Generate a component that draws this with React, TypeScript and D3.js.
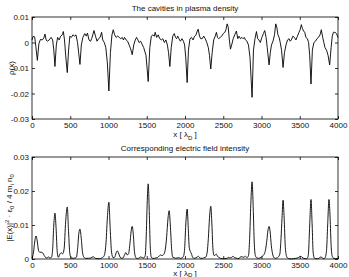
import React, { useEffect, useRef } from 'react';
import * as d3 from 'd3';

// density cavities, x in lambda_D, rho in 1e-3
const rhoX = [0, 15, 35, 50, 70, 90, 110, 135, 155, 170, 185, 200, 225, 250, 270, 285, 300, 318, 335, 355, 375, 395, 410, 425, 440, 461, 478, 495, 515, 535, 555, 575, 595, 610, 627, 645, 665, 690, 710, 725, 745, 765, 780, 795, 810, 830, 850, 870, 890, 910, 925, 945, 965, 985, 1005, 1025, 1045, 1062, 1080, 1100, 1120, 1140, 1160, 1180, 1195, 1210, 1230, 1250, 1270, 1290, 1310, 1330, 1350, 1367, 1385, 1400, 1420, 1460, 1490, 1519, 1540, 1560, 1580, 1600, 1610, 1630, 1650, 1670, 1690, 1710, 1730, 1750, 1770, 1785, 1802, 1820, 1840, 1860, 1875, 1890, 1905, 1920, 1940, 1960, 1980, 1995, 2010, 2028, 2045, 2065, 2085, 2105, 2125, 2145, 2160, 2172, 2190, 2205, 2225, 2245, 2265, 2285, 2305, 2320, 2337, 2355, 2375, 2395, 2411, 2425, 2440, 2460, 2480, 2500, 2520, 2535, 2551, 2565, 2580, 2594, 2610, 2630, 2650, 2672, 2690, 2705, 2725, 2745, 2760, 2775, 2790, 2810, 2830, 2850, 2877, 2895, 2915, 2934, 2950, 2965, 2985, 3005, 3025, 3042, 3060, 3075, 3099, 3115, 3130, 3150, 3170, 3186, 3200, 3215, 3230, 3245, 3262, 3282, 3300, 3320, 3340, 3360, 3375, 3390, 3410, 3430, 3450, 3470, 3490, 3505, 3521, 3535, 3550, 3565, 3580, 3600, 3615, 3630, 3647, 3665, 3685, 3705, 3725, 3745, 3765, 3782, 3800, 3815, 3830, 3850, 3870, 3891, 3910, 3925, 3940, 3960, 3980, 4000];
const rhoVal = [1.0, 2.4, 2.2, -1.5, -7.0, -0.5, 1.2, 1.0, 1.8, 3.3, 1.0, 0.5, 1.0, 2.0, 1.0, -3.0, -9.4, -1.0, 2.0, 1.0, 2.5, 3.0, 4.3, 1.0, -5.0, -11.8, -3.0, 2.5, 2.0, 3.0, 2.5, 3.0, 0.0, -4.0, -8.6, -1.0, 2.0, 3.5, 2.5, 3.7, 1.0, 0.5, 1.5, 3.0, 4.7, 2.5, 0.5, 1.5, 2.0, 4.0, 1.0, 0.0, -2.0, -8.0, -19.0, -4.0, 3.0, 5.0, 3.0, 2.0, 2.5, 2.0, 1.5, 2.0, 1.0, 2.0, 1.0, 0.5, -1.0, -2.5, -4.8, -1.0, 1.0, 2.0, 1.0, 0.0, 0.5, -2.0, -5.0, -15.3, -2.0, 2.5, 3.0, 2.5, 4.0, 2.0, 3.0, 1.5, 1.0, 1.5, 0.0, 1.0, -1.0, -4.0, -9.4, -2.0, 2.5, 3.5, 2.0, 1.5, 2.5, 1.5, 0.5, 1.5, 0.5, -1.0, -6.0, -15.7, -3.0, 1.5, 2.0, 1.0, 2.5, 3.0, 4.5, 5.2, 2.5, 1.5, 1.5, 2.5, 1.5, 0.0, -2.0, -5.0, -10.4, -4.0, 1.0, 2.5, 4.0, 2.0, 1.5, 2.0, 2.5, 3.5, 4.0, 5.0, 7.3, 6.0, 1.0, -2.6, -1.0, 1.5, 3.0, 4.5, 1.5, 2.5, 1.5, 2.0, 1.5, 2.0, 1.0, 0.5, -1.0, -6.0, -21.5, -3.0, 1.5, 4.3, 1.5, 1.0, 0.0, 2.0, 3.5, 4.7, 2.0, -2.0, -8.8, -4.0, -1.0, 0.5, 3.0, 7.3, 6.0, 3.0, 2.0, 0.0, -3.0, -9.8, -4.0, -1.0, 1.0, 1.5, 0.5, 1.0, 2.5, 2.0, 1.0, 2.5, 4.0, 5.0, 7.0, 5.5, 4.5, 4.0, 2.0, 1.5, 0.0, -5.0, -16.3, -3.0, 0.0, 0.5, 1.5, 2.0, 3.0, 5.0, 2.0, 0.0, -2.0, -3.0, -5.0, -8.8, -2.0, 2.5, 4.0, 4.0, 3.5, 2.0];

// field intensity, in 1e-3
const fieldX = [0, 20, 35, 52, 70, 85, 100, 120, 140, 160, 175, 195, 215, 235, 255, 270, 285, 300, 315, 330, 345, 365, 385, 400, 420, 440, 461, 478, 495, 515, 540, 560, 580, 600, 612, 627, 642, 660, 680, 700, 740, 770, 800, 820, 850, 880, 910, 940, 965, 985, 1005, 1022, 1040, 1060, 1080, 1100, 1114, 1130, 1150, 1170, 1190, 1210, 1227, 1245, 1262, 1280, 1295, 1310, 1325, 1340, 1360, 1380, 1400, 1420, 1440, 1460, 1480, 1495, 1505, 1519, 1533, 1545, 1560, 1580, 1600, 1620, 1640, 1660, 1680, 1700, 1720, 1740, 1760, 1778, 1793, 1808, 1825, 1840, 1860, 1880, 1900, 1920, 1940, 1960, 1980, 1995, 2010, 2028, 2043, 2055, 2070, 2085, 2100, 2120, 2140, 2160, 2175, 2190, 2210, 2230, 2250, 2270, 2290, 2305, 2320, 2337, 2352, 2365, 2380, 2395, 2410, 2425, 2445, 2465, 2490, 2520, 2550, 2570, 2590, 2610, 2630, 2645, 2665, 2690, 2710, 2730, 2750, 2770, 2790, 2810, 2830, 2845, 2860, 2877, 2893, 2905, 2920, 2940, 2960, 2980, 3000, 3020, 3040, 3055, 3070, 3085, 3099, 3113, 3128, 3145, 3160, 3180, 3200, 3220, 3240, 3255, 3268, 3282, 3296, 3310, 3325, 3340, 3360, 3390, 3420, 3450, 3480, 3500, 3515, 3530, 3550, 3570, 3590, 3605, 3615, 3630, 3647, 3662, 3675, 3690, 3710, 3730, 3750, 3765, 3780, 3795, 3810, 3830, 3850, 3865, 3882, 3897, 3910, 3925, 3945, 3970, 4000];
const fieldVal = [0.2, 2.0, 5.0, 6.8, 5.0, 2.5, 2.0, 2.0, 1.8, 1.0, 0.5, 0.3, 0.6, 0.3, 0.5, 3.0, 10.0, 13.5, 9.0, 2.0, 0.5, 1.5, 1.8, 1.5, 3.0, 11.0, 15.3, 8.0, 1.5, 0.3, 0.2, 0.3, 0.5, 4.0, 7.5, 8.8, 6.5, 2.0, 0.5, 0.2, 0.2, 0.3, 0.7, 0.3, 0.1, 0.1, 0.3, 0.8, 4.0, 12.0, 16.7, 9.0, 2.0, 0.4, 0.5, 1.8, 2.4, 1.8, 0.6, 0.2, 0.3, 1.2, 1.9, 1.2, 1.5, 4.5, 8.0, 9.6, 7.0, 2.0, 0.3, 0.1, 0.3, 0.6, 0.4, 0.3, 1.0, 8.0, 16.0, 22.1, 14.0, 4.0, 0.5, 0.2, 0.2, 0.3, 0.4, 0.8, 1.2, 1.0, 1.3, 2.5, 6.5, 12.0, 14.2, 10.0, 3.0, 0.5, 0.4, 0.2, 0.3, 0.4, 0.2, 0.3, 0.8, 3.0, 10.0, 14.7, 9.0, 3.5, 2.2, 1.5, 0.5, 0.2, 0.3, 0.6, 0.8, 0.4, 0.2, 0.2, 0.4, 0.5, 2.0, 6.0, 12.0, 15.5, 10.0, 3.0, 1.0, 1.2, 1.4, 0.8, 0.4, 0.2, 0.1, 0.1, 0.2, 0.5, 0.3, 0.5, 0.8, 0.4, 0.3, 0.1, 0.2, 0.7, 0.6, 0.5, 0.8, 0.4, 1.0, 6.0, 16.0, 22.7, 14.0, 5.0, 1.0, 0.3, 0.2, 0.3, 0.6, 1.0, 1.6, 3.0, 5.5, 8.5, 9.6, 8.0, 4.0, 1.5, 0.5, 0.2, 0.3, 0.6, 1.5, 6.0, 12.0, 17.3, 12.0, 4.0, 1.0, 0.3, 0.1, 0.0, 0.1, 0.2, 0.4, 0.7, 0.8, 0.5, 0.2, 0.1, 0.1, 0.5, 2.0, 10.0, 17.5, 10.0, 2.0, 0.3, 0.1, 0.1, 0.2, 0.5, 0.6, 0.3, 0.1, 0.3, 2.5, 10.0, 17.5, 12.0, 4.0, 0.8, 0.2, 0.1, 0.1];

const xTicks = [0, 500, 1000, 1500, 2000, 2500, 3000, 3500, 4000];
const rhoTicks = [-0.03, -0.02, -0.01, 0, 0.01];
const fieldTicks = [0, 0.01, 0.02, 0.03];

const W = 349, H = 277;
const L = 32, R = 338;
const FONT = '"Liberation Sans", Arial, sans-serif';

const fmt = (v: number) => (Math.abs(v) < 1e-9 ? '0' : v.toFixed(2));

const App = () => {
    const gRef = useRef<SVGGElement>(null);

    useEffect(() => {
        const root = d3.select(gRef.current);
        root.selectAll('*').remove();

        const drawPanel = (top: number, bottom: number, xs: number[], ys: number[], yTicks: number[], curve: any) => {
            const x = d3.scaleLinear().domain([0, 4000]).range([L, R]);
            const y = d3.scaleLinear().domain([yTicks[0], yTicks[yTicks.length - 1]]).range([bottom, top]);
            const g = root.append('g');

            g.append('rect')
                .attr('x', L).attr('y', top)
                .attr('width', R - L).attr('height', bottom - top)
                .attr('fill', '#fff').attr('stroke', '#000').attr('stroke-width', 0.8);

            const axes = [
                g.append('g').attr('transform', `translate(0,${bottom})`)
                    .call(d3.axisBottom(x).tickValues(xTicks).tickSizeInner(-3).tickSizeOuter(0).tickPadding(3).tickFormat(d => String(d))),
                g.append('g').attr('transform', `translate(0,${top})`)
                    .call(d3.axisTop(x).tickValues(xTicks).tickSizeInner(-3).tickSizeOuter(0).tickFormat(() => '')),
                g.append('g').attr('transform', `translate(${L},0)`)
                    .call(d3.axisLeft(y).tickValues(yTicks).tickSizeInner(-3).tickSizeOuter(0).tickPadding(3).tickFormat(d => fmt(+d))),
                g.append('g').attr('transform', `translate(${R},0)`)
                    .call(d3.axisRight(y).tickValues(yTicks).tickSizeInner(-3).tickSizeOuter(0).tickFormat(() => '')),
            ];
            axes.forEach(a => {
                a.select('.domain').remove();
                a.selectAll('line').attr('stroke', '#000').attr('stroke-width', 0.8);
                a.selectAll('text').attr('font-family', FONT).attr('font-size', 8).attr('fill', '#111');
            });

            const pts = xs.map((v, i) => [v, ys[i] / 1000] as [number, number]);
            const line = d3.line<[number, number]>()
                .x(d => x(d[0]))
                .y(d => y(d[1]))
                .curve(curve);
            g.append('path')
                .datum(pts)
                .attr('fill', 'none')
                .attr('stroke', '#000')
                .attr('stroke-width', 0.9)
                .attr('stroke-linejoin', 'round')
                .attr('d', line);
        };

        drawPanel(17, 119, rhoX, rhoVal, rhoTicks, d3.curveLinear);
        drawPanel(157, 259, fieldX, fieldVal, fieldTicks, d3.curveMonotoneX);
    }, []);

    const cx = (L + R) / 2;
    const txt = { fontFamily: FONT, fontSize: 8, fill: '#111' } as any;

    return (
        <div style={{ position: 'absolute', left: 0, top: 0, width: W, height: H, background: '#fff' }}>
            <svg width={W} height={H} style={{ display: 'block' }}>
                <g ref={gRef} />
                <text x={cx} y={11} textAnchor="middle" style={txt}>The cavities in plasma density</text>
                <text x={cx} y={137} textAnchor="middle" style={txt}>
                    x [ λ<tspan dy={2.5} fontSize={6}>D</tspan><tspan dy={-2.5}> ]</tspan>
                </text>
                <text transform="translate(14,68) rotate(-90)" textAnchor="middle" style={txt}>ρ(x)</text>
                <text x={cx} y={151} textAnchor="middle" style={txt}>Corresponding electric field intensity</text>
                <text x={cx} y={276} textAnchor="middle" style={txt}>
                    x [ λ<tspan dy={1} fontSize={6}>D</tspan><tspan dy={-1}> ]</tspan>
                </text>
                <text transform="translate(12,208) rotate(-90)" textAnchor="middle" style={txt}>
                    |E(x)|<tspan dy={-3} fontSize={6}>2</tspan><tspan dy={3}> · ε</tspan><tspan dy={2} fontSize={6}>0</tspan><tspan dy={-2}> / 4 m</tspan><tspan dy={2} fontSize={6}>i</tspan><tspan dy={-2}> n</tspan><tspan dy={2} fontSize={6}>0</tspan>
                </text>
            </svg>
        </div>
    );
};

export default App;
